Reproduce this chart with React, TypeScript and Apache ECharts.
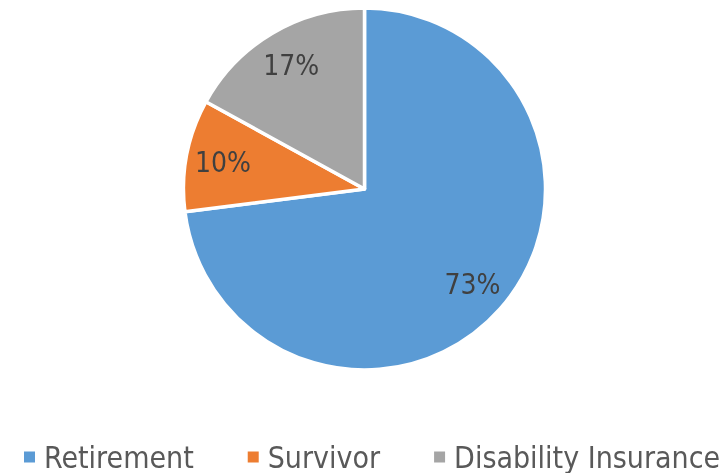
import React, { useEffect, useRef } from "react";
import * as echarts from "echarts";

const categories = ["Retirement", "Survivor", "Disability Insurance"];
const values = [73, 10, 17];
const colors = ["#5B9BD5", "#ED7D31", "#A5A5A5"];

const FONT = "'DejaVu Sans Condensed', 'DejaVu Sans', sans-serif";

export default function App() {
  const ref = useRef<HTMLDivElement>(null);
  useEffect(() => {
    if (!ref.current) return;
    const chart = echarts.init(ref.current, undefined, { renderer: "svg" });
    const data = categories.map((name, i) => ({ name, value: values[i], itemStyle: { color: colors[i] } }));
    chart.setOption({
      animation: false,
      legend: {
        top: 440,
        left: 22,
        padding: 0,
        icon: "rect",
        itemWidth: 13,
        itemHeight: 13,
        itemGap: 52,
        textStyle: { fontFamily: FONT, fontSize: 30, lineHeight: 34, color: "#595959", padding: [0, 0, 0, 3] },
        data: categories,
      },
      series: [
        {
          type: "pie",
          center: [364.5, 189],
          radius: [0, 181],
          startAngle: 90,
          clockwise: true,
          label: { show: false },
          labelLine: { show: false },
          itemStyle: { borderColor: "#ffffff", borderWidth: 3.5 },
          emphasis: { disabled: true },
          data,
        },
        {
          type: "pie",
          center: [364.5, 189],
          radius: [101, 181],
          startAngle: 90,
          clockwise: true,
          silent: true,
          legendHoverLink: false,
          itemStyle: { color: "transparent", borderWidth: 0 },
          label: {
            show: true,
            position: "inside",
            formatter: "{c}%",
            fontFamily: FONT,
            fontSize: 28,
            color: "#404040",
          },
          labelLine: { show: false },
          emphasis: { disabled: true },
          data: categories.map((name, i) => ({ name, value: values[i] })),
        },
      ],
    });
    return () => chart.dispose();
  }, []);
  return (
    <div
      ref={ref}
      style={{ position: "fixed", left: 0, top: 0, width: 727, height: 473, overflow: "hidden" }}
    />
  );
}
